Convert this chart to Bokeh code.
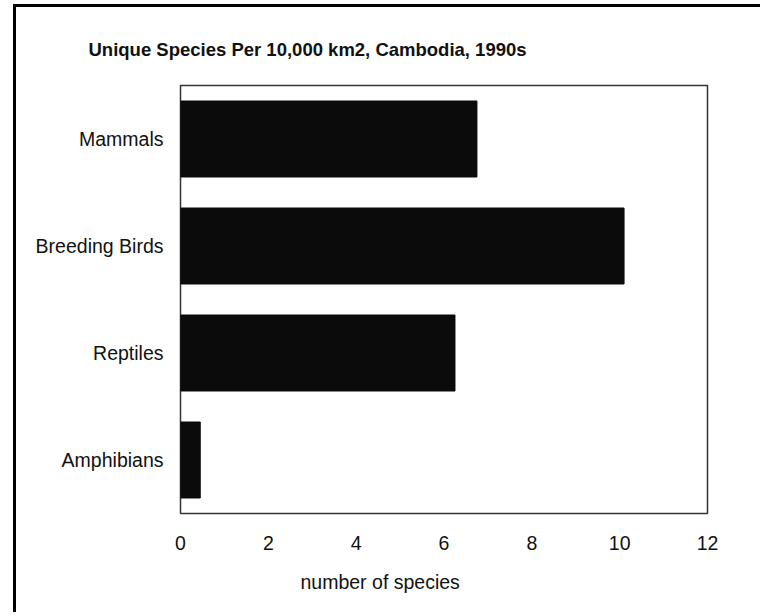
from bokeh.plotting import figure
from bokeh.models import FixedTicker, Title
from bokeh.embed import file_html
from bokeh.resources import INLINE

categories = ["Amphibians", "Reptiles", "Breeding Birds", "Mammals"]
values = [0.45, 6.25, 10.1, 6.75]
x_ticks = [0, 2, 4, 6, 8, 10, 12]
title_text = "Unique Species Per 10,000 km2, Cambodia, 1990s"
x_label = "number of species"

FONT = "Liberation Sans"

p = figure(
    y_range=categories, x_range=(0, 12),
    width=747, height=608,
    output_backend="svg", toolbar_location=None,
    min_border_left=164, min_border_right=56,
    min_border_top=78, min_border_bottom=102,
)
p.styles = {"margin-left": "13px", "margin-top": "4px",
            "border-left": "3px solid black", "border-top": "3px solid black"}

p.hbar(y=categories, right=values, left=0, height=0.71,
       fill_color="#0b0b0b", line_color="#0b0b0b")

p.xgrid.visible = False
p.ygrid.visible = False
p.outline_line_color = "#333333"
p.outline_line_width = 1.5

p.xaxis.ticker = FixedTicker(ticks=x_ticks)
for ax in (p.xaxis[0], p.yaxis[0]):
    ax.axis_line_color = None
    ax.major_tick_line_color = None
    ax.minor_tick_line_color = None
    ax.major_tick_out = 0
    ax.major_tick_in = 0
    ax.major_label_text_font = FONT
    ax.major_label_text_font_size = "19.5px"
    ax.major_label_text_color = "#111111"
p.xaxis.major_label_standoff = 22
p.yaxis.major_label_standoff = 17

p.title.text = title_text
p.title.align = "left"
p.title.offset = -92
p.title.standoff = 51
p.title.text_font = FONT
p.title.text_font_size = "18.5px"
p.title.text_font_style = "bold"
p.title.text_color = "#111111"

p.add_layout(Title(text=x_label, align="left", offset=120, standoff=32,
                   text_font=FONT, text_font_size="19.5px",
                   text_font_style="normal", text_color="#111111"), "below")

open("out.html", "w").write(file_html(p, INLINE))
